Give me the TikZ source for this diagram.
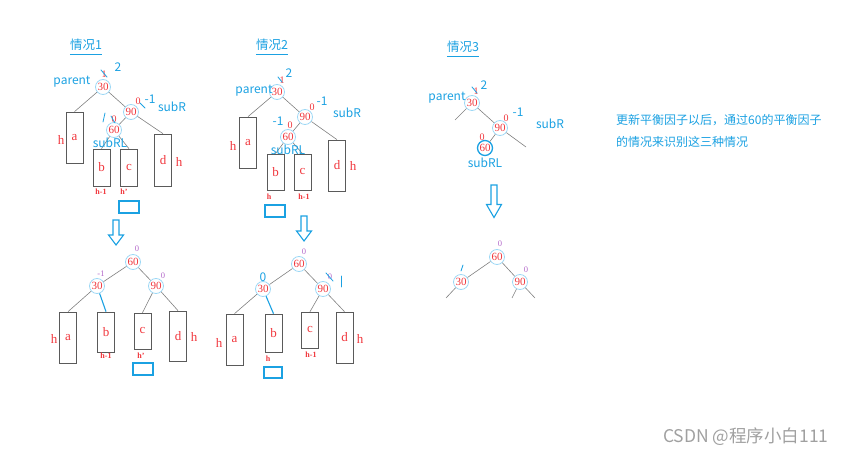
\documentclass[tikz,border=0pt]{standalone}
\usepackage{fontspec}
\setmainfont{Liberation Serif}
\newfontfamily\cjk{Noto Sans CJK SC}

\definecolor{nodered}{HTML}{F0353B}
\definecolor{ringblue}{HTML}{9ED8F5}
\definecolor{penblue}{HTML}{1BA1E2}
\definecolor{bfpurple}{HTML}{B267C9}
\definecolor{boxgray}{HTML}{5A5A5A}
\definecolor{markgray}{HTML}{A0A0A0}

\tikzset{
    downarrow/.pic={
        \draw[penblue, line width=1.1pt, line join=miter]
            (-3,0) -- (3,0) -- (3,15) -- (7.5,15) -- (0,25) -- (-7.5,15) -- (-3,15) -- cycle;
    }
}

\begin{document}
\begin{tikzpicture}[
    x=1pt, y=-1pt,
    every node/.style={inner sep=0pt},
    key/.style={circle, draw=ringblue, line width=0.8pt, minimum size=15pt,
        text=nodered, font=\fontsize{11}{11}\selectfont},
    sub/.style={draw=boxgray, line width=0.7pt, minimum width=17pt,
        text=nodered, font=\fontsize{13}{13}\selectfont},
    edge/.style={draw=gray, line width=0.6pt},
    hot/.style={draw=penblue, line width=1.1pt},
    note/.style={text=penblue, font=\cjk\fontsize{12}{12}\selectfont},
    title/.style={note, font=\cjk\fontsize{12.5}{12.5}\selectfont},
    bf/.style={text=bfpurple, font=\fontsize{8.5}{8.5}\selectfont},
    old/.style={text=nodered, font=\fontsize{10}{10}\selectfont},
    ht/.style={text=nodered, font=\fontsize{8}{8}\selectfont\bfseries},
    hl/.style={text=nodered, font=\fontsize{13}{13}\selectfont},
    pen/.style={draw=penblue, line width=0.8pt, line cap=round},
    slot/.style={draw=penblue, line width=1.2pt, minimum width=20pt, minimum height=12pt}
]
\useasboundingbox (0,0) rectangle (868,457);

% case 1, before
\node[title] (t1) at (86,45) {情况1};
\draw[penblue, line width=0.8pt] ([yshift=-3pt]t1.south west) -- ([yshift=-3pt]t1.south east);
\node[key] (p1) at (103,87) {30};
\node[key] (r1) at (131,112) {90};
\node[key] (rl1) at (114,130) {60};
\node[sub, minimum height=51pt] (a1) at (74.5,137.5) {a};
\node[sub, minimum height=37pt] (b1) at (101.5,167.5) {b};
\node[sub, minimum height=37pt] (c1) at (129,167.5) {c};
\node[sub, minimum height=52pt] (d1) at (163,160) {d};
\draw[edge] (p1) -- (a1.north);
\draw[edge] (p1) -- (r1);
\draw[edge] (r1) -- (rl1);
\draw[edge] (r1) -- (d1.north);
\draw[edge] (rl1) -- (b1.north);
\draw[edge] (rl1) -- (c1.north);
\node[note] at (72,82) {parent};
\node[note] at (172,107) {subR};
\node[note] at (110,143) {subRL};
\node[hl] at (61,140) {h};
\node[hl] at (179,162) {h};
\node[ht] at (101,192) {h-1};
\node[ht] at (124,192) {h'};
\node[slot] (s1) at (129,207) {};
\node[old] at (104,74) {1};
\draw[pen] (101,70) -- (107,77);
\node[note] at (118,67) {2};
\node[old] at (138,101) {0};
\draw[pen] (140,103) -- (145,108);
\node[note] at (150,99) {-1};
\node[old] at (114,119) {0};
\draw[pen] (105,113) -- (103,122);
\draw[pen] (111,116) -- (115,123);

% case 1, after
\pic at (116,220) {downarrow};
\node[key] (rl1n) at (133,262) {60};
\node[key] (p1n) at (97,286) {30};
\node[key] (r1n) at (156,286) {90};
\node[sub, minimum height=51pt] (a1n) at (68,337.5) {a};
\node[sub, minimum height=40pt] (b1n) at (106,332) {b};
\node[sub, minimum height=36pt] (c1n) at (142.5,331) {c};
\node[sub, minimum height=50pt] (d1n) at (178,336) {d};
\draw[edge] (rl1n) -- (p1n);
\draw[edge] (rl1n) -- (r1n);
\draw[edge] (p1n) -- (a1n.north);
\draw[hot] (p1n) -- (b1n.north);
\draw[edge] (r1n) -- (c1n.north);
\draw[edge] (r1n) -- (d1n.north);
\node[bf] at (137,249) {0};
\node[bf] at (101,274) {-1};
\node[bf] at (163,276) {0};
\node[hl] at (54,339) {h};
\node[hl] at (194,337) {h};
\node[ht] at (106,356) {h-1};
\node[ht] at (141,356) {h'};
\node[slot] (s1n) at (143,369) {};

% case 2, before
\node[title] (t2) at (272,45) {情况2};
\draw[penblue, line width=0.8pt] ([yshift=-3pt]t2.south west) -- ([yshift=-3pt]t2.south east);
\node[key] (p2) at (277,92) {30};
\node[key] (r2) at (305,117) {90};
\node[key] (rl2) at (288,137) {60};
\node[sub, minimum height=51pt] (a2) at (248,142.5) {a};
\node[sub, minimum height=36pt] (b2) at (275.5,172) {b};
\node[sub, minimum height=36pt] (c2) at (302.5,172) {c};
\node[sub, minimum height=51pt] (d2) at (337,165.5) {d};
\draw[edge] (p2) -- (a2.north);
\draw[edge] (p2) -- (r2);
\draw[edge] (r2) -- (rl2);
\draw[edge] (r2) -- (d2.north);
\draw[edge] (rl2) -- (b2.north);
\draw[edge] (rl2) -- (c2.north);
\node[note] at (254,91) {parent};
\node[note] at (347,113) {subR};
\node[note] at (288,150) {subRL};
\node[hl] at (233,146) {h};
\node[hl] at (353,166) {h};
\node[ht] at (269,197) {h};
\node[ht] at (304,197) {h-1};
\node[slot] (s2) at (275,211) {};
\node[old] at (282,80) {1};
\draw[pen] (278,77) -- (282,82);
\node[note] at (289,73) {2};
\node[old] at (312,107) {0};
\node[note] at (322,101) {-1};
\node[old] at (290,125) {0};
\node[note] at (278,121) {-1};

% case 2, after
\pic at (304,216) {downarrow};
\node[key] (rl2n) at (299,264) {60};
\node[key] (p2n) at (263,289) {30};
\node[key] (r2n) at (323,289) {90};
\node[sub, minimum height=51pt] (a2n) at (234.5,339.5) {a};
\node[sub, minimum height=38pt] (b2n) at (273.5,333) {b};
\node[sub, minimum height=36pt] (c2n) at (310,330) {c};
\node[sub, minimum height=51pt] (d2n) at (344.5,337.5) {d};
\draw[edge] (rl2n) -- (p2n);
\draw[edge] (rl2n) -- (r2n);
\draw[edge] (p2n) -- (a2n.north);
\draw[hot] (p2n) -- (b2n.north);
\draw[edge] (r2n) -- (c2n.north);
\draw[edge] (r2n) -- (d2n.north);
\node[bf] at (304,252) {0};
\node[note] at (263,277) {0};
\node[bf] at (330,277) {0};
\draw[pen] (326,273) -- (333,281);
\draw[pen] (341,276) -- (341,287);
\node[hl] at (219,343) {h};
\node[hl] at (360,339) {h};
\node[ht] at (268,359) {h};
\node[ht] at (311,355) {h-1};
\node[slot, minimum width=18pt, minimum height=11pt] (s2n) at (273,372.5) {};

% case 3, before
\node[title] (t3) at (463,47) {情况3};
\draw[penblue, line width=0.8pt] ([yshift=-3pt]t3.south west) -- ([yshift=-3pt]t3.south east);
\node[key] (p3) at (472,103) {30};
\node[key] (r3) at (500,128) {90};
\node[key, draw=penblue, line width=1.3pt] (rl3) at (485,148) {60};
\coordinate (p3l) at (455,120);
\coordinate (r3r) at (526,147);
\draw[edge] (p3) -- (p3l);
\draw[edge] (p3) -- (r3);
\draw[edge] (r3) -- (rl3);
\draw[edge] (r3) -- (r3r);
\node[note] at (447,98) {parent};
\node[note] at (550,124) {subR};
\node[note] at (485,163) {subRL};
\node[old] at (476,91) {1};
\draw[pen] (472,87) -- (477,93);
\node[note] at (484,85) {2};
\node[old] at (506,118) {0};
\node[note] at (518,112) {-1};
\node[old] at (482,137) {0};

% case 3, after
\pic[yscale=1.3] at (494,185) {downarrow};
\node[key] (rl3n) at (497,257) {60};
\node[key] (p3n) at (461,282) {30};
\node[key] (r3n) at (520,282) {90};
\coordinate (p3nl) at (446,298);
\coordinate (r3nl) at (512,298);
\coordinate (r3nr) at (535,298);
\draw[edge] (rl3n) -- (p3n);
\draw[edge] (rl3n) -- (r3n);
\draw[edge] (p3n) -- (p3nl);
\draw[edge] (r3n) -- (r3nl);
\draw[edge] (r3n) -- (r3nr);
\node[bf] at (500,244) {0};
\node[bf] at (526,270) {0};
\draw[pen] (463,265) -- (461,271);

% remark
\node[note, anchor=west] (msg1) at (616,120) {更新平衡因子以后，通过60的平衡因子};
\node[note, anchor=west] (msg2) at (616,142) {的情况来识别这三种情况};

\node[text=markgray, font=\cjk\fontsize{17.5}{17.5}\selectfont, anchor=west] (mark) at (663,437) {CSDN @程序小白111};
\end{tikzpicture}
\end{document}
